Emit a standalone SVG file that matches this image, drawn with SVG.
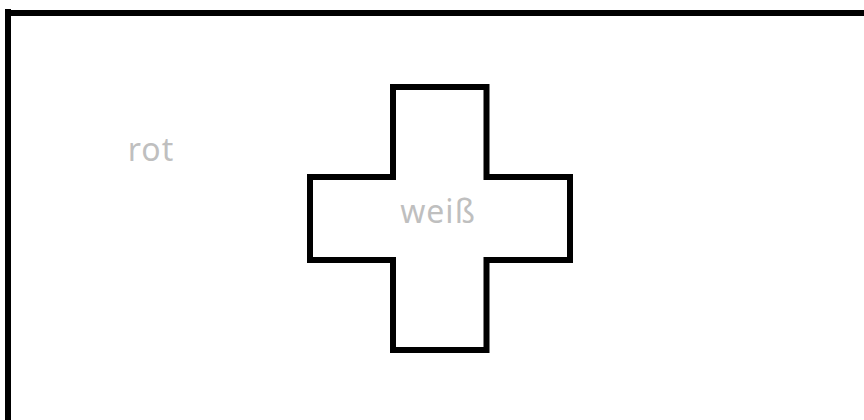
<svg xmlns="http://www.w3.org/2000/svg" width="864" height="420" viewBox="0 0 864 420">
<style>
.line{fill:none;stroke:#000;stroke-width:6;stroke-linejoin:miter}
.lbl{font-family:"Comic Sans MS","Noto Sans",sans-serif;font-size:32px;fill:#bfbfbf;text-anchor:middle;letter-spacing:1px}
</style>
<rect width="864" height="420" fill="#fff"/>
<g id="flag">
<path class="line" d="M8,9 V420 M8,13 H864"/>
<text class="lbl" x="151" y="161">rot</text>
</g>
<g id="cross">
<path class="line" d="M393,87 H486.5 V177 H570 V260 H486.5 V350 H393 V260 H310 V177 H393 Z"/>
<text class="lbl" x="438" y="223">weiß</text>
</g>
</svg>
